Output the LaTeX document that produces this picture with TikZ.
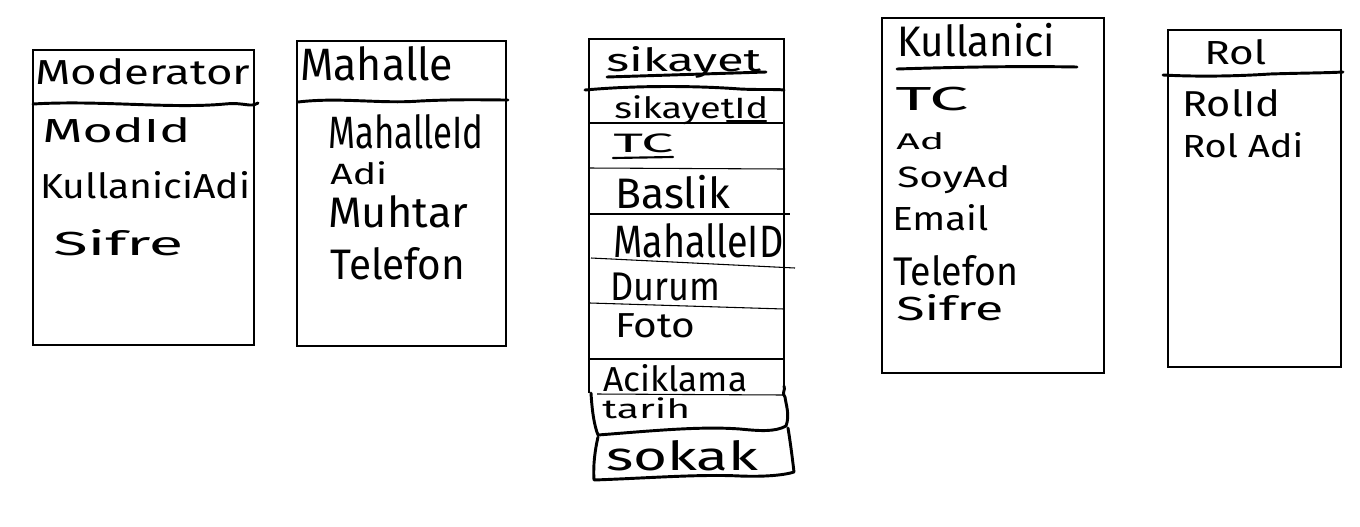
\documentclass[tikz,border=0pt]{standalone}
\usepackage{fontspec}
\setmainfont{Fira Sans}
\usetikzlibrary{fit}
\newcommand{\hw}[3]{\fontsize{#1}{#1}\selectfont\resizebox{\dimexpr #2pt*3/4\relax}{\height}{#3}}
\begin{document}
\begin{tikzpicture}[x=0.75pt,y=-0.75pt,
  box/.style={draw, line width=0.9pt, inner sep=0pt},
  txt/.style={anchor=base west, inner sep=0pt},
  pen/.style={line width=2.2pt, line cap=round, line join=round},
  rowline/.style={line width=0.8pt}]
\useasboundingbox[fill=white] (0,0) rectangle (1360,526);

% ---------------- Moderator ----------------
\node[box, fit={(33,50) (254,345)}] (modbox) {};
\node[txt] (modt) at (35,84) {\hw{26}{215}{Moderator}};
\draw[pen] (33,104) .. controls (100,100) and (170,109) .. (225,104)
  .. controls (245,102) and (250,108) .. (258,103);
\node[txt] (mod1) at (42,142) {\hw{25}{148}{ModId}};
\node[txt] (mod2) at (40,198) {\hw{26}{210}{KullaniciAdi}};
\node[txt] (mod3) at (53,255) {\hw{25}{130}{Sifre}};

% ---------------- Mahalle ----------------
\node[box, fit={(297,41) (506,346)}] (mahbox) {};
\node[txt] (maht) at (300,80) {\hw{34}{153}{Mahalle}};
\draw[pen] (298,102) .. controls (340,97) and (380,104) .. (420,101)
  .. controls (460,99) and (490,100) .. (508,100);
\node[txt] (mah1) at (328,148) {\hw{34}{155}{MahalleId}};
\node[txt] (mah2) at (330,184) {\hw{22}{57}{Adi}};
\node[txt] (mah3) at (328,227) {\hw{32}{140}{Muhtar}};
\node[txt] (mah4) at (330,279) {\hw{32}{135}{Telefon}};

% ---------------- Sikayet ----------------
\coordinate (sTL) at (589,39);
\coordinate (sTR) at (784,39);
\coordinate (sLB) at (589,393);
\coordinate (sRB) at (784,387);
\draw[box] (sLB) -- (sTL) -- (sTR) -- (sRB);
\node[txt] (sikt) at (606,71) {\hw{24}{155}{sikayet}};
\draw[pen] (607,77) -- (766,72);
\draw[pen] (585,90) .. controls (640,85) and (700,86) .. (740,89)
  .. controls (760,90) and (775,89) .. (784,90);
\node[txt] (sik1) at (614,118) {\hw{22}{154}{sikayetId}};
\draw[pen, line width=1.6pt] (727,121) -- (766,121);
\draw[rowline] (589,123) -- (784,123);
\node[txt] (sik2) at (613,152) {\hw{20}{60}{TC}};
\draw[pen, line width=1.6pt] (613,158) -- (673,157);
\draw[rowline] (589,168) -- (785,169);
\node[txt] (sik3) at (615,208) {\hw{32}{115}{Baslik}};
\draw[rowline] (589,214) -- (790,214);
\node[txt] (sik4) at (613,257) {\hw{34}{170}{MahalleID}};
\draw[rowline] (591,258) -- (795,268);
\node[txt] (sik5) at (610,300) {\hw{30}{110}{Durum}};
\draw[rowline] (590,303) -- (784,309);
\node[txt] (sik6) at (615,337) {\hw{26}{80}{Foto}};
\draw[rowline] (589,359) -- (784,359);
\node[txt] (sik7) at (603,391) {\hw{26}{144}{Aciklama}};
\draw[rowline] (597,394) -- (784,395);
\node[txt] (sik8) at (602,418) {\hw{20}{88}{tarih}};
% hand-drawn lower part
\draw[pen] (591,393) .. controls (592,410) and (594,425) .. (598,435)
  .. controls (650,431) and (700,426) .. (740,429)
  .. controls (760,431) and (775,432) .. (786,426)
  .. controls (790,415) and (786,405) .. (785,397)
  .. controls (781,393) and (786,390) .. (784,386);
\draw[pen] (598,437) .. controls (595,450) and (593,465) .. (594,480)
  .. controls (650,478) and (700,474) .. (740,476)
  .. controls (765,477) and (785,475) .. (794,472)
  .. controls (792,455) and (790,440) .. (788,428);
\node[txt] (sik9) at (606,470) {\hw{30}{152}{sokak}};

% ---------------- Kullanici ----------------
\node[box, fit={(882,18) (1104,373)}] (kulbox) {};
\node[txt] (kult) at (897,56) {\hw{32}{158}{Kullanici}};
\draw[pen] (897,69) .. controls (960,67) and (1020,66) .. (1077,67);
\node[txt] (kul1) at (895,110) {\hw{25}{73}{TC}};
\node[txt] (kul2) at (896,149) {\hw{17}{48}{Ad}};
\node[txt] (kul3) at (897,187) {\hw{22}{113}{SoyAd}};
\node[txt] (kul4) at (892,230) {\hw{25}{96}{Email}};
\node[txt] (kul5) at (893,285) {\hw{30}{125}{Telefon}};
\node[txt] (kul6) at (896,320) {\hw{25}{107}{Sifre}};

% ---------------- Rol ----------------
\node[box, fit={(1168,30) (1341,367)}] (rolbox) {};
\node[txt] (rolt) at (1204,64) {\hw{25}{62}{Rol}};
\draw[pen] (1163,75) .. controls (1200,77) and (1240,76) .. (1270,74)
  .. controls (1300,73) and (1325,73) .. (1343,72);
\node[txt] (rol1) at (1182,116) {\hw{27}{98}{RolId}};
\node[txt] (rol2) at (1182,157) {\hw{24}{121}{Rol Adi}};
\end{tikzpicture}
\end{document}
